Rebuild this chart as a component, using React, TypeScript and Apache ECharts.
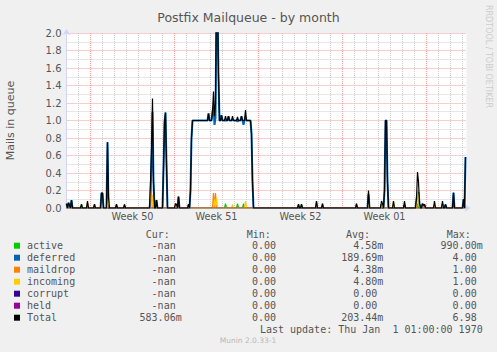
import React, { useEffect, useRef } from "react";
import * as echarts from "echarts";

// ---- data (one slot = 2 hours, 12 slots per day) ----
const SLOT_COUNT = 401;
const slots: string[] = Array.from({ length: SLOT_COUNT }, (_, i) => String(i));

const weekStartSlots = [24, 108, 192, 276, 360];
const weekLabelSlots = [66, 150, 234, 318];
const weekLabels = ["Week 50", "Week 51", "Week 52", "Week 01"];
const yTicks = [0, 0.2, 0.4, 0.6, 0.8, 1.0, 1.2, 1.4, 1.6, 1.8, 2.0];

// sparse readings [slot, value]; every other slot reads 0
const activePts: [number, number][] = [
  [15, 0.045], [28, 0.045], [50, 0.045], [58, 0.04], [122, 0.045],
  [159, 0.05], [171, 0.05], [177, 0.05],
  [232, 0.045], [235, 0.045], [250, 0.08], [256, 0.05], [290, 0.05],
  [315, 0.04], [338, 0.05], [351, 0.05],
];
const maildropPts: [number, number][] = [
  [21, 0.06], [84, 0.2], [85, 0.1], [109, 0.05], [147, 0.17], [149, 0.17], [357, 0.03],
];
const incomingPts: [number, number][] = [
  [42, 0.12], [86, 0.15], [110, 0.04], [148, 0.1], [150, 0.12], [166, 0.04], [179, 0.08],
  [302, 0.04], [316, 0.05], [327, 0.08], [351, 0.19], [352, 0.12], [368, 0.05], [376, 0.04],
];
// flat stretch of the deferred queue: [fromSlot, toSlot, value]
const deferredRuns: [number, number, number][] = [[126, 184, 1.0]];
const deferredPts: [number, number][] = [
  [0, 0.05], [2, 0.06], [3, 0.03], [5, 0.09], [21, 0.02], [35, 0.17], [36, 0.17], [41, 0.75],
  [84, 0.1], [85, 0.55], [86, 1.1], [87, 0.3], [90, 0.09],
  [97, 0.45], [98, 0.98], [99, 1.09], [100, 0.5], [112, 0.13], [124, 0.2], [125, 0.8],
  [142, 1.08], [146, 1.1], [147, 1.16], [148, 0.95], [149, 1.03], [150, 2.3], [151, 2.3], [152, 1.5],
  [155, 1.06], [162, 1.05], [166, 1.01], [171, 0.99], [175, 1.05], [177, 0.95], [179, 1.04],
  [185, 0.85], [186, 0.3],
  [302, 0.16], [315, 0.04], [318, 0.2], [319, 1.0], [320, 1.0], [321, 0.3], [338, 0.03],
  [350, 0.1], [351, 0.17], [352, 0.18], [353, 0.05], [356, 0.05], [358, 0.04],
  [368, 0.03], [376, 0.04], [379, 0.04], [387, 0.175], [397, 0.1], [399, 0.583],
];
const corruptPts: [number, number][] = [];
const heldPts: [number, number][] = [];

// legend table
const fieldNames = ["active", "deferred", "maildrop", "incoming", "corrupt", "held", "Total"];
const fieldColors = ["#00cc00", "#0066b3", "#ff8000", "#ffcc00", "#330099", "#990099", "#000000"];
const curValues = ["-nan", "-nan", "-nan", "-nan", "-nan", "-nan", "583.06m"];
const minValues = ["0.00", "0.00", "0.00", "0.00", "0.00", "0.00", "0.00"];
const avgValues = ["4.58m", "189.69m", "4.38m", "4.80m", "0.00", "0.00", "203.44m"];
const maxValues = ["990.00m", "4.00", "1.00", "1.00", "0.00", "0.00", "6.98"];

function dense(pts: [number, number][], runs: [number, number, number][] = []) {
  const a: number[] = new Array(SLOT_COUNT - 1).fill(0);
  runs.forEach(([f, t, v]) => {
    for (let i = f; i <= t; i++) a[i] = v;
  });
  pts.forEach(([i, v]) => (a[i] = v));
  return a;
}

export default function App() {
  const ref = useRef<HTMLDivElement>(null);
  useEffect(() => {
    if (!ref.current) return;
    const chart = echarts.init(ref.current, null, { renderer: "svg" });

    const active = dense(activePts);
    const deferred = dense(deferredPts, deferredRuns);
    const maildrop = dense(maildropPts);
    const incoming = dense(incomingPts);
    const corrupt = dense(corruptPts);
    const held = dense(heldPts);
    const total = active.map((_, i) => active[i] + deferred[i] + maildrop[i] + incoming[i] + corrupt[i] + held[i]);
    const seriesData = [active, deferred, maildrop, incoming, corrupt, held, total];

    const FONT = "DejaVu Sans";
    const MONO = "DejaVu Sans Mono";
    const txtColor = "#555555";
    const rowY0 = 245.7;
    const rowH = 12;
    const charW = 6.02;
    const colEnds = [181.7, 282, 383.3, 482.7];
    const mono = (t: string, x: number, y: number, right = true) => ({
      type: "text",
      x,
      y,
      silent: true,
      style: {
        text: t,
        fill: txtColor,
        font: `10px "${MONO}"`,
        align: right ? "right" : "left",
        textAlign: right ? "right" : "left",
        verticalAlign: "middle",
        textVerticalAlign: "middle",
      },
    });
    const unitEnd = (v: string, end: number) => (/[a-zA-Z]$/.test(v) && v !== "-nan" ? end : end - charW);

    const graphics: any[] = [];
    graphics.push(mono("Cur:", 145.7, 234, false));
    graphics.push(mono("Min:", 246.7, 234, false));
    graphics.push(mono("Avg:", 346, 234, false));
    graphics.push(mono("Max:", 446.7, 234, false));
    fieldNames.forEach((n, k) => {
      const y = rowY0 + k * rowH;
      graphics.push({
        type: "rect",
        silent: true,
        shape: { x: 14, y: y - 3, width: 6, height: 6 },
        style: { fill: fieldColors[k] },
      });
      graphics.push(mono(n, 27, y, false));
      graphics.push(mono(curValues[k], unitEnd(curValues[k], colEnds[0]), y));
      graphics.push(mono(minValues[k], unitEnd(minValues[k], colEnds[1]), y));
      graphics.push(mono(avgValues[k], unitEnd(avgValues[k], colEnds[2]), y));
      graphics.push(mono(maxValues[k], unitEnd(maxValues[k], colEnds[3]), y));
    });
    graphics.push(mono("Last update: Thu Jan  1 01:00:00 1970", 482.7, 329.3));
    graphics.push({
      type: "text",
      x: 248,
      y: 340.7,
      silent: true,
      style: {
        text: "Munin 2.0.33-1",
        fill: "#b8b8b8",
        font: `7.5px "${FONT}"`,
        align: "center",
        textAlign: "center",
        verticalAlign: "middle",
        textVerticalAlign: "middle",
      },
    });
    graphics.push({
      type: "text",
      x: 10,
      y: 120.5,
      rotation: Math.PI / 2,
      silent: true,
      style: {
        text: "Mails in queue",
        fill: txtColor,
        font: `11px "${FONT}"`,
        align: "center",
        textAlign: "center",
        verticalAlign: "middle",
        textVerticalAlign: "middle",
      },
    });
    graphics.push({
      type: "text",
      x: 488,
      y: 56.5,
      rotation: -Math.PI / 2,
      silent: true,
      style: {
        text: "RRDTOOL / TOBI OETIKER",
        fill: "#cccccc",
        font: `8px "${FONT}"`,
        align: "center",
        textAlign: "center",
        verticalAlign: "middle",
        textVerticalAlign: "middle",
      },
    });

    const widths = [1.2, 2, 1.2, 1.2, 1, 1, 1.2];
    const lineSeries = fieldNames.map((n, k) => ({
      name: n,
      type: "line",
      xAxisIndex: 0,
      yAxisIndex: 0,
      data: seriesData[k],
      symbol: "none",
      showSymbol: false,
      clip: true,
      lineStyle: {
        color: fieldColors[k],
        width: widths[k],
        opacity: k === 4 || k === 5 ? 0.45 : 1,
      },
      z: 2 + k,
    }));

    const option: any = {
      animation: false,
      backgroundColor: "#f0f0f0",
      title: {
        text: "Postfix Mailqueue - by month",
        left: "center",
        top: 6,
        textStyle: { fontFamily: FONT, fontSize: 12.5, fontWeight: "normal", color: "#555555" },
      },
      grid: {
        left: 66.5,
        top: 33,
        width: 400,
        height: 175,
        show: true,
        backgroundColor: "#ffffff",
        borderWidth: 0,
        containLabel: false,
      },
      xAxis: [
        {
          type: "category",
          data: slots,
          boundaryGap: false,
          position: "bottom",
          axisLine: {
            show: true,
            lineStyle: { color: "#CFD6F8", width: 1 },
            symbol: ["none", "arrow"],
            symbolSize: [6, 6],
            symbolOffset: [0, 4],
          },
          axisTick: { show: false },
          axisLabel: { show: false },
          splitLine: {
            show: true,
            interval: (i: number) => i % 12 === 0,
            lineStyle: { color: "#cfcfcf", type: [1, 1], width: 1 },
          },
        },
        {
          type: "category",
          data: slots,
          boundaryGap: false,
          position: "bottom",
          offset: 0,
          axisLine: { show: false },
          axisTick: { show: false },
          axisLabel: {
            show: true,
            interval: (i: number) => weekLabelSlots.indexOf(i) >= 0,
            formatter: (_v: string, i: number) => {
              const k = weekLabelSlots.indexOf(i);
              return k >= 0 ? weekLabels[k] : "";
            },
            color: txtColor,
            fontFamily: FONT,
            fontSize: 9.7,
            margin: 3.5,
          },
          splitLine: {
            show: true,
            interval: (i: number) => weekStartSlots.indexOf(i) >= 0,
            lineStyle: { color: "#f59a9a", type: [1, 1], width: 1 },
          },
        },
      ],
      yAxis: {
        type: "value",
        min: yTicks[0],
        max: yTicks[yTicks.length - 1],
        interval: 0.2,
        axisLine: {
          show: true,
          lineStyle: { color: "#CFD6F8", width: 1 },
          symbol: ["none", "arrow"],
          symbolSize: [6, 6],
          symbolOffset: [0, 4],
        },
        axisTick: { show: false },
        axisLabel: {
          formatter: (v: number) => v.toFixed(1),
          color: txtColor,
          fontFamily: FONT,
          fontSize: 10,
          margin: 5,
        },
        splitLine: { show: true, lineStyle: { color: "#f59a9a", type: [1, 1], width: 1 } },
        minorTick: { show: false, splitNumber: 2 },
        minorSplitLine: { show: true, lineStyle: { color: "#cfcfcf", type: [1, 1], width: 1 } },
      },
      series: lineSeries,
      graphic: graphics,
    };
    chart.setOption(option);
    return () => chart.dispose();
  }, []);
  return (
    <div
      ref={ref}
      style={{ position: "absolute", left: 0, top: 0, width: 497, height: 352 }}
    />
  );
}
